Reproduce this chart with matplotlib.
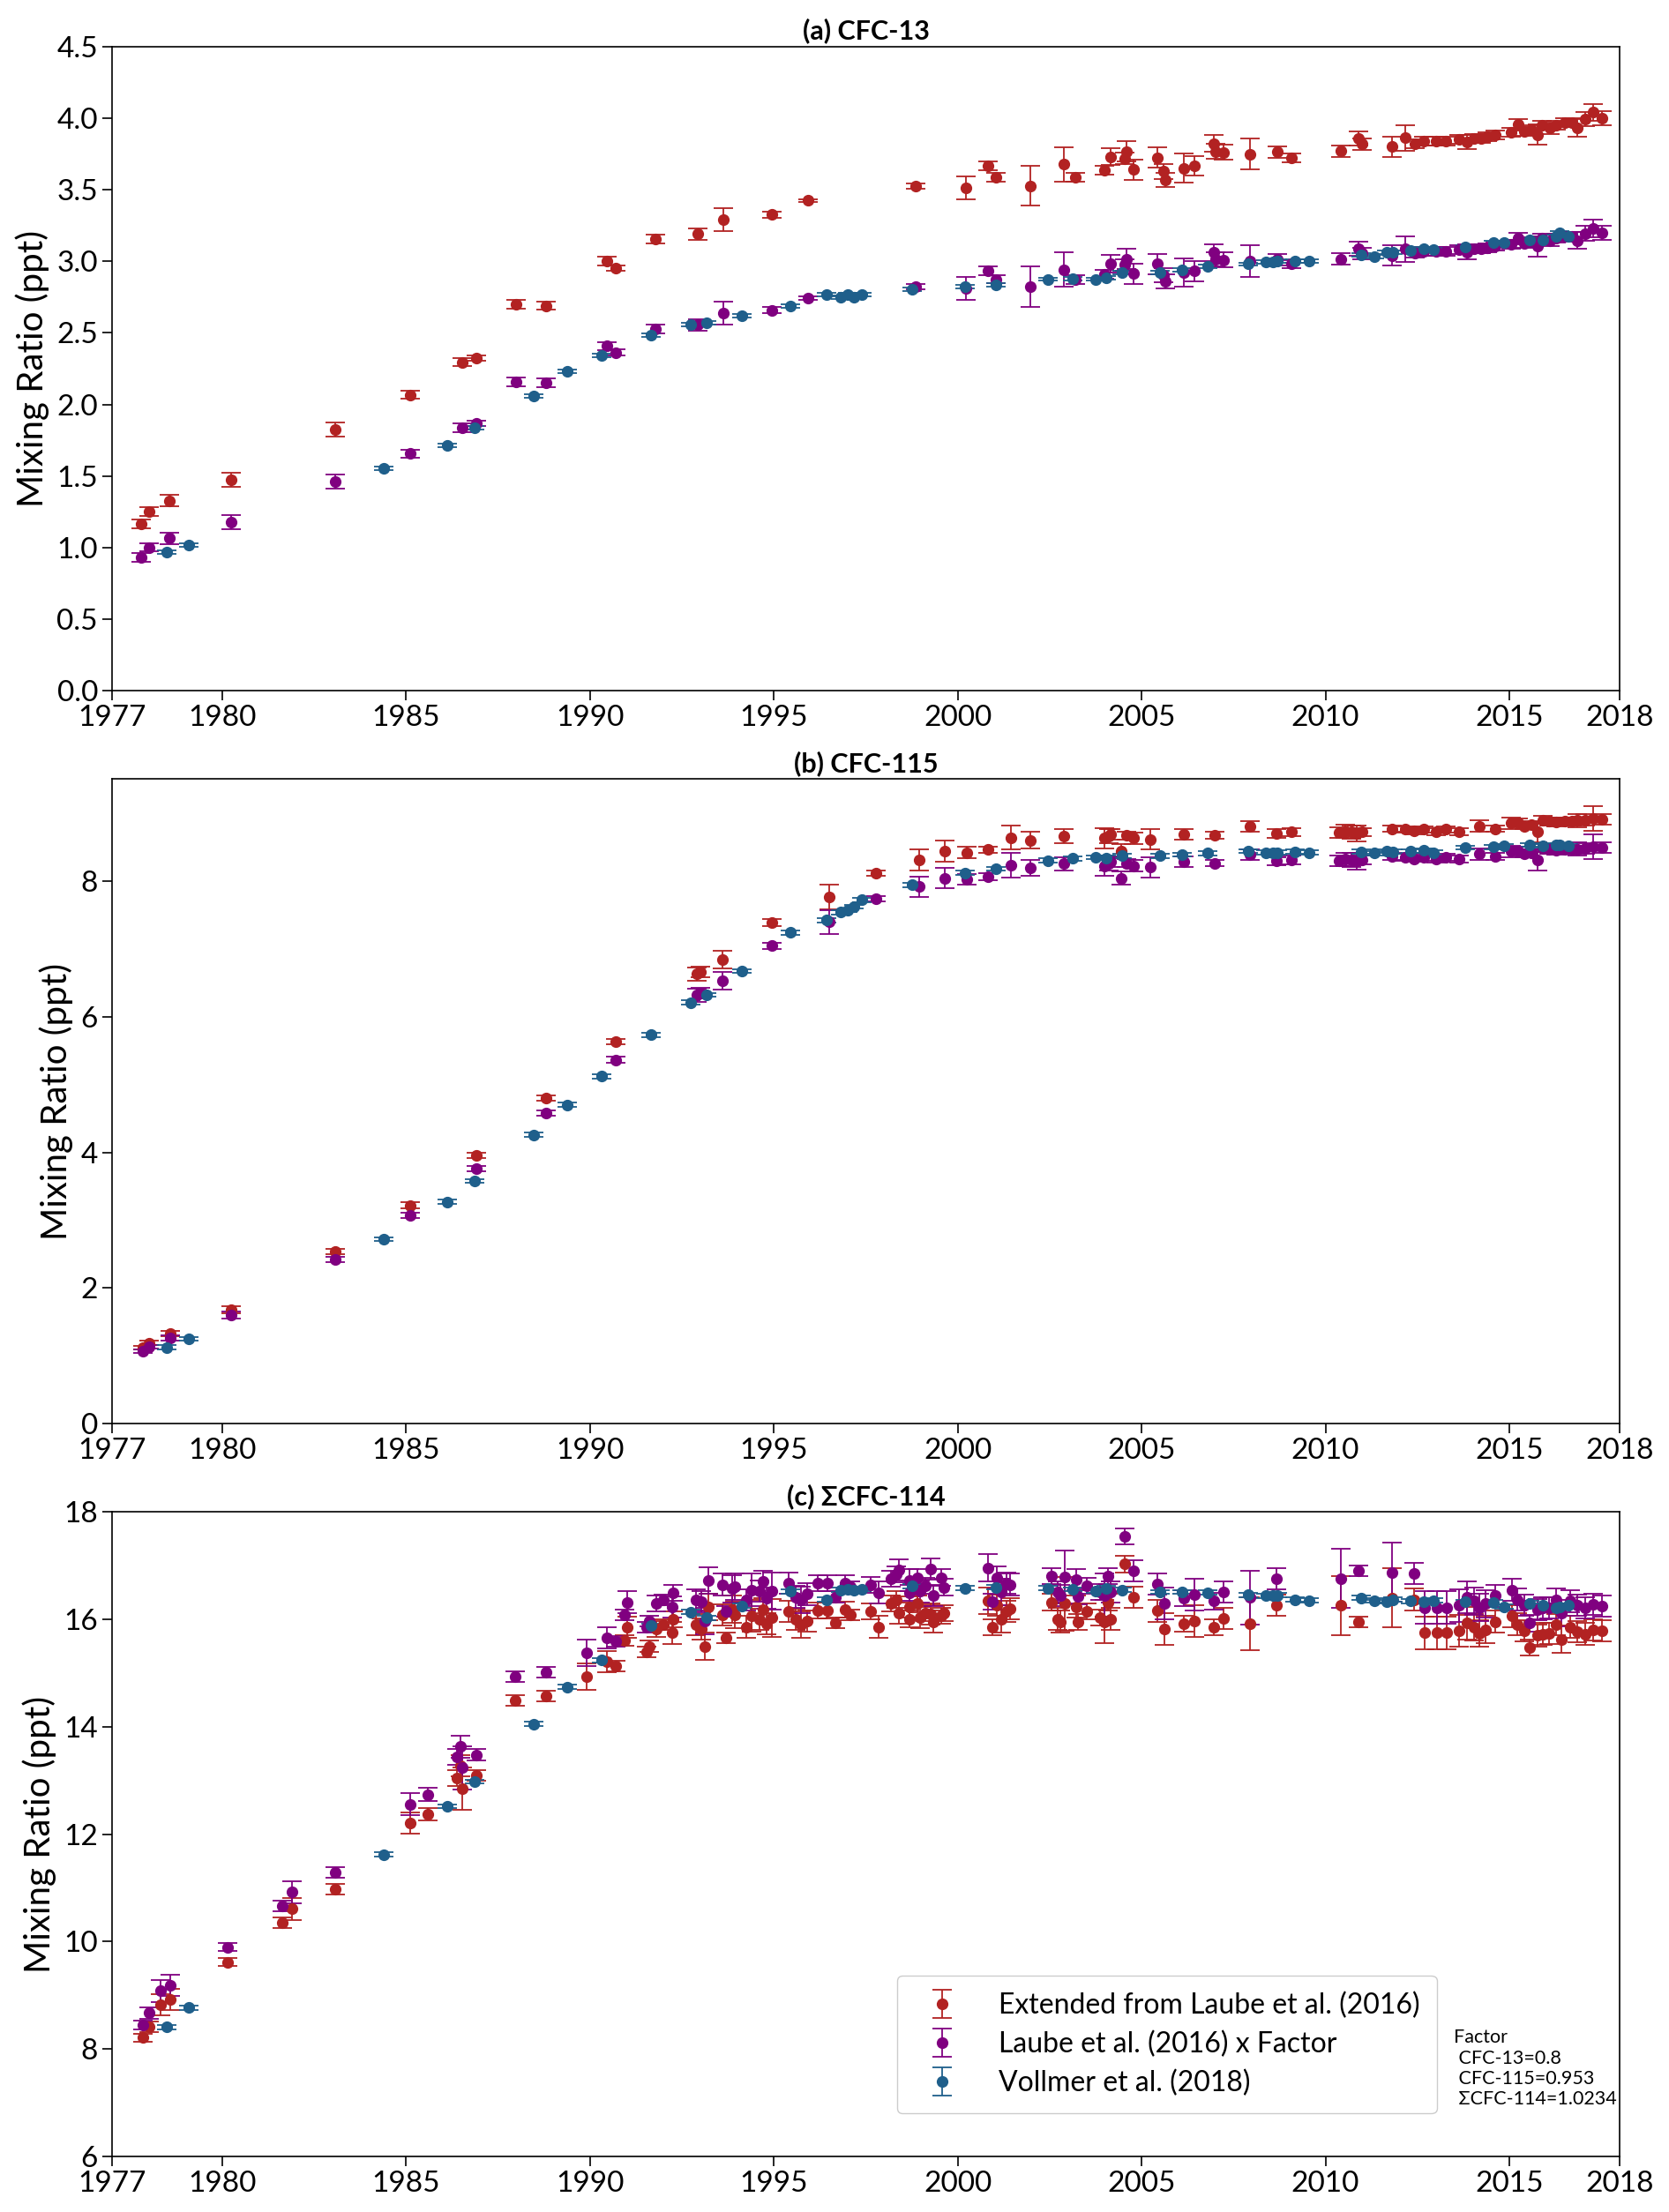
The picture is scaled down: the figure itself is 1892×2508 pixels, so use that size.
import matplotlib
matplotlib.use("Agg")
import matplotlib.pyplot as plt

plt.rcParams['font.family'] = ['Lato', 'DejaVu Sans']

# ---------------- data ----------------
titles = ["(a) CFC-13", "(b) CFC-115", "(c) \u03a3CFC-114"]
labels = ["Extended from Laube et al. (2016)", "Laube et al. (2016) x Factor", "Vollmer et al. (2018)"]
colors = ["#b22222", "#800080", "#1f5f8b"]
xticks = [1977, 1980, 1985, 1990, 1995, 2000, 2005, 2010, 2015, 2018]
factor_text = "Factor\n CFC-13=0.8\n CFC-115=0.953\n \u03a3CFC-114=1.0234"

# Vollmer et al. (2018) sample dates, shared by all panels
vollmer_years = [1978.5, 1979.08, 1984.39, 1986.11, 1986.85, 1988.47, 1989.39, 1990.32, 1991.66, 1992.75,
                 1993.17, 1994.13, 1995.46, 1996.43, 1996.81, 1997.0, 1997.17, 1997.39, 1998.77, 2000.2,
                 2001.04, 2002.46, 2003.13, 2003.75, 2004.04, 2004.46, 2005.5, 2006.11, 2006.8, 2007.9,
                 2008.37, 2008.57, 2008.7, 2009.17, 2009.56, 2010.96, 2011.33, 2011.66, 2011.83, 2012.32,
                 2012.67, 2012.93, 2013.79, 2014.57, 2014.86, 2015.56, 2015.91, 2016.27, 2016.37, 2016.6]

# (a) CFC-13
years_a = [1977.8, 1978.0, 1978.57, 1980.23, 1983.08, 1985.1, 1986.52, 1986.9, 1988.0, 1988.8,
           1990.46, 1990.7, 1991.77, 1992.94, 1993.62, 1994.95, 1995.92, 1998.86, 2000.23, 2000.82,
           2001.04, 2001.97, 2002.88, 2003.21, 2003.99, 2004.16, 2004.54, 2004.6, 2004.77, 2005.43,
           2005.59, 2005.65, 2006.14, 2006.44, 2006.96, 2007.02, 2007.22, 2007.96, 2008.68, 2009.08,
           2010.43, 2010.91, 2010.99, 2011.82, 2012.17, 2012.43, 2012.67, 2013.0, 2013.28, 2013.64,
           2013.85, 2014.04, 2014.23, 2014.4, 2014.62, 2015.05, 2015.24, 2015.4, 2015.6, 2015.77,
           2015.9, 2016.1, 2016.27, 2016.52, 2016.7, 2016.85, 2017.07, 2017.28, 2017.51]
ext_a = [1.167, 1.254, 1.328, 1.473, 1.823, 2.068, 2.296, 2.325, 2.70, 2.69,
         3.003, 2.952, 3.154, 3.19, 3.29, 3.325, 3.424, 3.524, 3.514, 3.666,
         3.588, 3.527, 3.678, 3.585, 3.637, 3.73, 3.717, 3.768, 3.64, 3.723,
         3.627, 3.569, 3.65, 3.666, 3.823, 3.768, 3.762, 3.749, 3.765, 3.723,
         3.77, 3.858, 3.82, 3.80, 3.862, 3.82, 3.84, 3.84, 3.84, 3.852,
         3.833, 3.858, 3.858, 3.868, 3.884, 3.90, 3.955, 3.906, 3.92, 3.884,
         3.95, 3.93, 3.95, 3.97, 3.97, 3.93, 3.994, 4.04, 4.0]
ext_a_err = [0.03, 0.03, 0.04, 0.05, 0.05, 0.03, 0.03, 0.02, 0.03, 0.03,
             0.03, 0.02, 0.03, 0.04, 0.08, 0.02, 0.01, 0.02, 0.08, 0.03,
             0.03, 0.14, 0.12, 0.03, 0.03, 0.06, 0.04, 0.07, 0.07, 0.07,
             0.05, 0.05, 0.1, 0.07, 0.06, 0.05, 0.05, 0.11, 0.04, 0.03,
             0.04, 0.05, 0.04, 0.07, 0.09, 0.03, 0.03, 0.03, 0.03, 0.03,
             0.05, 0.03, 0.03, 0.03, 0.03, 0.03, 0.04, 0.03, 0.03, 0.07,
             0.03, 0.04, 0.03, 0.03, 0.03, 0.06, 0.05, 0.06, 0.05]
laube_a = [0.932, 1.003, 1.067, 1.18, 1.46, 1.656, 1.836, 1.868, 2.16, 2.15,
           2.408, 2.363, 2.527, 2.556, 2.637, 2.659, 2.743, 2.823, 2.813, 2.932,
           2.875, 2.823, 2.942, 2.87, 2.91, 2.984, 2.975, 3.016, 2.913, 2.98,
           2.904, 2.86, 2.923, 2.932, 3.06, 3.016, 3.01, 3.0, 3.013, 2.98,
           3.016, 3.087, 3.056, 3.04, 3.087, 3.056, 3.07, 3.07, 3.07, 3.08,
           3.066, 3.087, 3.087, 3.094, 3.105, 3.12, 3.16, 3.125, 3.135, 3.105,
           3.16, 3.145, 3.16, 3.175, 3.175, 3.145, 3.195, 3.23, 3.2]
vollmer_a = [0.971, 1.019, 1.553, 1.714, 1.836, 2.058, 2.232, 2.341, 2.482, 2.556,
             2.569, 2.621, 2.688, 2.768, 2.75, 2.765, 2.75, 2.77, 2.804, 2.823,
             2.836, 2.875, 2.881, 2.875, 2.887, 2.92, 2.92, 2.942, 2.965, 2.98,
             2.997, 2.997, 3.003, 3.003, 3.0, 3.045, 3.035, 3.061, 3.061, 3.077,
             3.09, 3.08, 3.103, 3.132, 3.132, 3.151, 3.148, 3.177, 3.2, 3.174]
vollmer_a_err = 0.012

# (b) CFC-115
years_b = [1977.83, 1978.0, 1978.58, 1980.24, 1983.07, 1985.1, 1986.9, 1988.8, 1990.7, 1992.9,
           1993.0, 1993.6, 1994.94, 1996.5, 1997.78, 1998.96, 1999.64, 2000.24, 2000.82, 2001.44,
           2001.97, 2002.88, 2003.99, 2004.1, 2004.16, 2004.45, 2004.6, 2004.77, 2005.24, 2006.14,
           2007.0, 2007.94, 2008.67, 2009.08, 2010.36, 2010.55, 2010.7, 2010.85, 2011.0, 2011.82,
           2012.16, 2012.42, 2012.67, 2013.0, 2013.27, 2013.63, 2014.18, 2014.61, 2015.04, 2015.23,
           2015.4, 2015.6, 2015.76, 2015.91, 2016.08, 2016.27, 2016.52, 2016.7, 2016.85, 2017.06,
           2017.28, 2017.51]
ext_b = [1.12, 1.19, 1.325, 1.683, 2.538, 3.22, 3.95, 4.80, 5.63, 6.63,
         6.66, 6.845, 7.39, 7.76, 8.12, 8.31, 8.44, 8.42, 8.46, 8.64,
         8.6, 8.66, 8.63, 8.66, 8.69, 8.44, 8.67, 8.63, 8.61, 8.69,
         8.67, 8.80, 8.70, 8.72, 8.71, 8.73, 8.72, 8.70, 8.72, 8.77,
         8.76, 8.74, 8.76, 8.73, 8.76, 8.73, 8.81, 8.77, 8.85, 8.86,
         8.81, 8.83, 8.72, 8.9, 8.88, 8.87, 8.88, 8.88, 8.89, 8.9,
         8.92, 8.91]
ext_b_err = [0.03, 0.03, 0.04, 0.05, 0.04, 0.04, 0.04, 0.04, 0.04, 0.1,
             0.08, 0.13, 0.05, 0.18, 0.04, 0.15, 0.15, 0.08, 0.05, 0.18,
             0.12, 0.1, 0.15, 0.1, 0.08, 0.1, 0.06, 0.08, 0.15, 0.08,
             0.05, 0.08, 0.06, 0.06, 0.08, 0.1, 0.1, 0.12, 0.06, 0.05,
             0.05, 0.05, 0.05, 0.05, 0.05, 0.05, 0.08, 0.05, 0.08, 0.06,
             0.05, 0.05, 0.15, 0.06, 0.06, 0.06, 0.06, 0.06, 0.1, 0.08,
             0.18, 0.08]
laube_b = [1.067, 1.134, 1.263, 1.604, 2.419, 3.069, 3.764, 4.574, 5.365, 6.318,
           6.347, 6.523, 7.043, 7.395, 7.738, 7.919, 8.043, 8.024, 8.062, 8.234,
           8.196, 8.253, 8.224, 8.253, 8.282, 8.043, 8.263, 8.224, 8.205, 8.282,
           8.263, 8.386, 8.291, 8.31, 8.301, 8.32, 8.31, 8.291, 8.31, 8.358,
           8.348, 8.329, 8.348, 8.32, 8.348, 8.32, 8.396, 8.358, 8.434, 8.444,
           8.396, 8.415, 8.31, 8.482, 8.463, 8.453, 8.463, 8.463, 8.472, 8.482,
           8.501, 8.491]
vollmer_b = [1.127, 1.25, 2.72, 3.27, 3.58, 4.26, 4.70, 5.12, 5.73, 6.21,
             6.32, 6.67, 7.24, 7.42, 7.54, 7.57, 7.62, 7.72, 7.94, 8.12,
             8.18, 8.30, 8.33, 8.35, 8.34, 8.37, 8.37, 8.39, 8.41, 8.44,
             8.42, 8.42, 8.42, 8.43, 8.42, 8.43, 8.41, 8.44, 8.43, 8.44,
             8.45, 8.42, 8.49, 8.50, 8.52, 8.53, 8.52, 8.53, 8.53, 8.52]
vollmer_b_err = 0.03

# (c) sum CFC-114
years_c = [1977.83, 1978.0, 1978.32, 1978.58, 1980.15, 1981.64, 1981.9, 1983.07, 1985.1, 1985.6,
           1986.37, 1986.48, 1986.52, 1986.9,
           1987.96, 1988.8, 1989.9, 1990.47, 1990.7, 1990.95, 1991.0,
           1991.53, 1991.6, 1991.8, 1992.0, 1992.23, 1992.25, 1992.88, 1993.02, 1993.12, 1993.23,
           1993.6, 1993.7, 1993.87, 1993.95, 1994.26, 1994.4, 1994.6, 1994.7, 1994.81, 1994.95,
           1995.39, 1995.6, 1995.74, 1995.9, 1996.19, 1996.46, 1996.67, 1996.94, 1997.08, 1997.63,
           1997.84,
           1998.18, 1998.33, 1998.4, 1998.69, 1998.7, 1998.9, 1998.98, 1999.12, 1999.27, 1999.34,
           1999.55, 1999.63, 2000.82, 2000.95, 2001.07, 2001.18, 2001.33, 2001.43, 2002.55, 2002.72,
           2002.8, 2002.9, 2003.23, 2003.27, 2003.52, 2003.88, 2003.99, 2004.09, 2004.16, 2004.54,
           2004.77, 2005.43, 2005.63, 2006.14, 2006.44, 2006.96, 2007.22, 2007.95, 2008.67, 2010.43,
           2010.91, 2011.82, 2012.42, 2012.71, 2013.03, 2013.29, 2013.63, 2013.86, 2014.03, 2014.18,
           2014.35, 2014.61, 2015.07, 2015.22, 2015.4, 2015.55, 2015.76, 2015.91, 2016.08, 2016.27,
           2016.42, 2016.66, 2016.85, 2017.06, 2017.28, 2017.51]
ext_c = [8.21, 8.42, 8.83, 8.92, 9.62, 10.35, 10.61, 10.97, 12.21, 12.37,
         13.05, 13.28, 12.85, 13.09,
         14.49, 14.57, 14.93, 15.21, 15.13, 15.61, 15.85,
         15.4, 15.5, 15.82, 15.9, 15.75, 16.0, 15.9, 15.82, 15.5, 16.23,
         16.08, 15.66, 16.19, 16.08, 15.86, 16.07, 16.0, 16.19, 15.92, 16.03,
         16.15, 16.0, 15.9, 15.97, 16.17, 16.17, 15.94, 16.18, 16.08, 16.15,
         15.86,
         16.3, 16.37, 16.12, 16.23, 16.01, 16.29, 16.04, 16.12, 16.1, 15.96,
         16.07, 16.12, 16.35, 15.85, 16.26, 16.01, 16.15, 16.2, 16.32, 16.01,
         15.96, 16.29, 16.24, 15.95, 16.15, 16.04, 15.96, 16.32, 16.01, 17.03,
         16.41, 16.16, 15.82, 15.92, 15.97, 15.86, 16.02, 15.92, 16.26, 16.26,
         15.95, 16.4, 16.37, 15.75, 15.75, 15.75, 15.79, 15.93, 15.85, 15.74,
         15.81, 15.96, 16.06, 15.91, 15.79, 15.48, 15.7, 15.73, 15.74, 15.9,
         15.63, 15.86, 15.77, 15.73, 15.8, 15.79]
ext_c_err = [0.08, 0.1, 0.2, 0.2, 0.08, 0.1, 0.2, 0.1, 0.2, 0.12,
             0.15, 0.2, 0.4, 0.1,
             0.1, 0.1, 0.25, 0.2, 0.1, 0.1, 0.2,
             0.1, 0.1, 0.15, 0.1, 0.2, 0.15, 0.2, 0.2, 0.25, 0.25,
             0.2, 0.1, 0.25, 0.25, 0.2, 0.3, 0.2, 0.2, 0.2, 0.35,
             0.2, 0.2, 0.25, 0.2, 0.15, 0.15, 0.1, 0.15, 0.1, 0.15,
             0.2,
             0.15, 0.15, 0.2, 0.2, 0.15, 0.15, 0.2, 0.15, 0.2, 0.2,
             0.15, 0.15, 0.25, 0.15, 0.2, 0.25, 0.2, 0.2, 0.15, 0.2,
             0.2, 0.5, 0.2, 0.15, 0.15, 0.15, 0.4, 0.15, 0.2, 0.15,
             0.2, 0.2, 0.3, 0.15, 0.3, 0.15, 0.2, 0.5, 0.2, 0.55,
             0.1, 0.55, 0.2, 0.3, 0.3, 0.3, 0.3, 0.3, 0.25, 0.25,
             0.25, 0.2, 0.2, 0.2, 0.2, 0.15, 0.2, 0.2, 0.2, 0.2,
             0.25, 0.2, 0.2, 0.2, 0.2, 0.2]
laube_c = [8.45, 8.67, 9.08, 9.19, 9.9, 10.66, 10.92, 11.29, 12.56, 12.74,
           13.44, 13.63, 13.24, 13.48,
           14.93, 15.02, 15.38, 15.66, 15.59, 16.08, 16.32,
           15.85, 15.97, 16.3, 16.36, 16.23, 16.49, 16.36, 16.33, 15.97, 16.72,
           16.65, 16.15, 16.57, 16.61, 16.36, 16.55, 16.53, 16.7, 16.4, 16.53,
           16.67, 16.42, 16.36, 16.47, 16.67, 16.67, 16.42, 16.67, 16.61, 16.64,
           16.5,
           16.76, 16.84, 16.92, 16.73, 16.5, 16.78, 16.52, 16.62, 16.94, 16.45,
           16.78, 16.6, 16.96, 16.33, 16.78, 16.51, 16.67, 16.65, 16.81, 16.51,
           16.45, 16.79, 16.74, 16.43, 16.63, 16.51, 16.45, 16.81, 16.51, 17.55,
           16.9, 16.66, 16.3, 16.4, 16.46, 16.34, 16.51, 16.41, 16.76, 16.76,
           16.9, 16.88, 16.86, 16.22, 16.22, 16.22, 16.26, 16.41, 16.34, 16.22,
           16.29, 16.44, 16.55, 16.37, 16.26, 15.93, 16.18, 16.21, 16.22, 16.37,
           16.12, 16.34, 16.26, 16.22, 16.28, 16.25]
vollmer_c = [8.41, 8.77, 11.62, 12.52, 12.98, 14.05, 14.74, 15.24, 15.88, 16.14,
             16.03, 16.25, 16.52, 16.37, 16.55, 16.56, 16.55, 16.56, 16.62, 16.58,
             16.6, 16.58, 16.56, 16.53, 16.58, 16.55, 16.51, 16.51, 16.5, 16.46,
             16.44, 16.45, 16.45, 16.37, 16.35, 16.4, 16.35, 16.33, 16.37, 16.34,
             16.33, 16.35, 16.33, 16.32, 16.24, 16.3, 16.26, 16.21, 16.24, 16.26]
vollmer_c_err = 0.04

panels = [
    (years_a, ext_a, ext_a_err, laube_a, vollmer_a, vollmer_a_err, (0, 4.5), [0, 0.5, 1, 1.5, 2, 2.5, 3, 3.5, 4, 4.5]),
    (years_b, ext_b, ext_b_err, laube_b, vollmer_b, vollmer_b_err, (0, 9.5), [0, 2, 4, 6, 8]),
    (years_c, ext_c, ext_c_err, laube_c, vollmer_c, vollmer_c_err, (6, 18), [6, 8, 10, 12, 14, 16, 18]),
]

fig, axes = plt.subplots(3, 1, figsize=(18.92, 25.08), dpi=100)
fig.subplots_adjust(left=0.0671, right=0.9704, top=0.979, bottom=0.0251, hspace=0.137)

style = dict(fmt='o', markersize=8.5, capsize=8, elinewidth=1.3, capthick=1.3)

for ax, title, (yrs, ext, ext_err, laube, voll, voll_err, ylim, yticks) in zip(axes, titles, panels):
    ax.errorbar(yrs, ext, yerr=ext_err, color=colors[0], label=labels[0], **style)
    ax.errorbar(yrs, laube, yerr=ext_err, color=colors[1], label=labels[1], **style)
    ax.errorbar(vollmer_years, voll, yerr=voll_err, color=colors[2], label=labels[2], **style)

    ax.set_xlim(1977, 2018)
    ax.set_xticks(xticks)
    ax.set_ylim(*ylim)
    ax.set_yticks(yticks)
    if ylim[1] == 4.5:
        ax.set_yticklabels(["{:.1f}".format(v) for v in yticks])
    ax.set_title(title, fontsize=22, fontweight='bold', pad=6)
    ax.set_ylabel("Mixing Ratio (ppt)", fontsize=29, labelpad=6)
    ax.tick_params(labelsize=24, length=8, width=1.2)
    for s in ax.spines.values():
        s.set_linewidth(1.2)

ax = axes[2]
ax.legend(loc='lower right', bbox_to_anchor=(0.888, 0.045), fontsize=23,
          labelspacing=0.42, borderpad=0.6, handletextpad=1.0, framealpha=1)
ax.text(0.89, 0.198, factor_text, transform=ax.transAxes, fontsize=15.5, va='top', ha='left')

plt.savefig("out.png", dpi=100)
